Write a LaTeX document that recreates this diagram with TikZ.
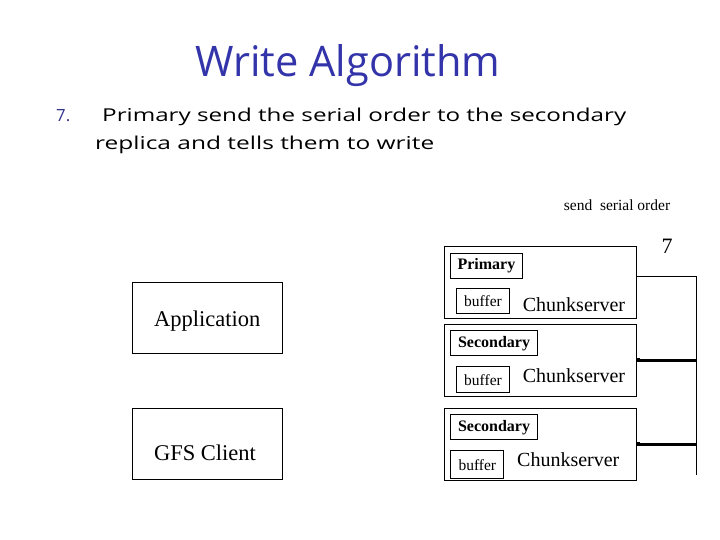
\documentclass[tikz,border=0pt]{standalone}
\usepackage{fontspec}
\setmainfont{Liberation Serif}
\newfontfamily\comic{Open Sans}
\usepackage{graphicx}
\definecolor{titleblue}{RGB}{51,51,170}
\definecolor{numblue}{RGB}{50,50,140}
\tikzset{
  box/.style={draw, line width=1pt, inner sep=0pt},
  csbox/.style={box, minimum width=192pt, minimum height=72pt},
  rolebox/.style={box, minimum height=25pt, font=\fontsize{16}{18}\selectfont\bfseries, text height=11pt, text depth=3pt},
  bufbox/.style={box, minimum width=52.6pt, minimum height=25.6pt, font=\fontsize{15.5}{18}\selectfont, text height=11pt, text depth=0pt},
  bigbox/.style={box, minimum width=150pt, minimum height=71pt},
  cstext/.style={anchor=base, inner sep=0pt, font=\fontsize{20}{24}\selectfont},
  bigtext/.style={anchor=base, inner sep=0pt, font=\fontsize{22.5}{26}\selectfont},
  thin/.style={line width=1pt},
  thick line/.style={line width=3pt},
}
\begin{document}
\begin{tikzpicture}[x=1pt,y=-1pt]
\useasboundingbox (0,0) rectangle (720,540);
% title and text
\node[anchor=base west, inner sep=0pt, text=titleblue] (title) at (195,77)
  {\resizebox{305pt}{32pt}{\comic Write Algorithm}};
\node[anchor=base west, inner sep=0pt, text=numblue] (num) at (56,122)
  {\resizebox{14pt}{12pt}{\comic 7.}};
\node[anchor=base west, inner sep=0pt] (line1) at (102,122)
  {\resizebox{524pt}{13.5pt}{\comic Primary send the serial order to the secondary}};
\node[anchor=base west, inner sep=0pt] (line2) at (95,150)
  {\resizebox{339pt}{13.5pt}{\comic replica and tells them to write}};
% left boxes
\node[bigbox] (app) at (207.7,318.3) {};
\node[bigtext] (apptext) at (207.3,326.7) {Application};
\node[bigbox] (gfs) at (207.7,444) {};
\node[bigtext] (gfstext) at (205,460) {GFS Client};
% chunkservers
\node[csbox] (prim) at (540.7,282.5) {};
\node[csbox] (sec1) at (540.7,360.5) {};
\node[csbox] (sec2) at (540.7,444.2) {};
\node[rolebox, minimum width=71.5pt] (primlbl) at (486.4,265.5) {Primary};
\node[rolebox, minimum width=86.6pt] (seclbl1) at (494,343.3) {Secondary};
\node[rolebox, minimum width=86.6pt] (seclbl2) at (494,427.2) {Secondary};
\node[bufbox] (buf1) at (483,300.8) {buffer};
\node[bufbox] (buf2) at (483,379.5) {buffer};
\node[bufbox, minimum width=53.3pt, minimum height=27.6pt] (buf3) at (477.3,464.5) {buffer};
\node[cstext] (cs1) at (574,311.7) {Chunkserver};
\node[cstext] (cs2) at (574,382.7) {Chunkserver};
\node[cstext] (cs3) at (568.3,466.7) {Chunkserver};
% connectors
\coordinate (bustop) at (696,276.3);
\coordinate (busbot) at (696,475);
\coordinate (tap1) at (696,360);
\coordinate (tap2) at (696,444);
\draw[thin] (prim.east |- bustop) -- (bustop) -- (busbot);
\draw[thick line] (sec1.east |- tap1) -- (tap1);
\draw[thick line] (sec2.east |- tap2) -- (tap2);
\fill (sec1.east |- tap1) ++(-1.5,-2) rectangle ++(4,4);
\fill (sec2.east |- tap2) ++(-1.5,-2) rectangle ++(4,4);
% labels
\node[anchor=base, inner sep=0pt, font=\fontsize{15.5}{18}\selectfont] (sendlbl) at (617,211) {send\ \ serial order};
\node[anchor=base, inner sep=0pt, font=\fontsize{22}{26}\selectfont] (seven) at (667,254) {7};
\end{tikzpicture}
\end{document}
